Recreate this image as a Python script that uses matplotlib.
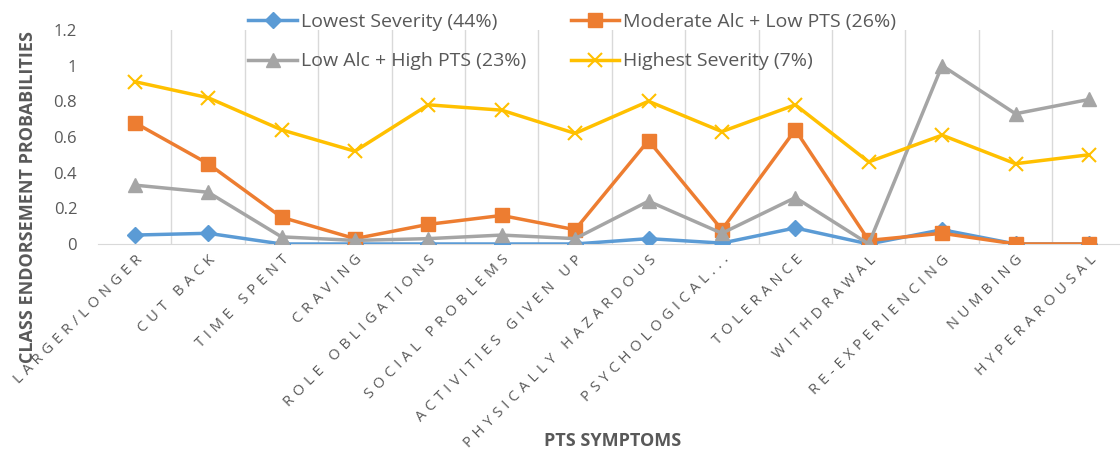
import numpy as np
import matplotlib.pyplot as plt

# symptom categories (x axis)
symptoms = ['LARGER/LONGER', 'CUT BACK', 'TIME SPENT', 'CRAVING', 'ROLE OBLIGATIONS',
            'SOCIAL PROBLEMS', 'ACTIVITIES GIVEN UP', 'PHYSICALLY HAZARDOUS',
            'PSYCHOLOGICAL...', 'TOLERANCE', 'WITHDRAWAL', 'RE-EXPERIENCING',
            'NUMBING', 'HYPERAROUSAL']

# class endorsement probabilities
lowest = [0.05, 0.06, 0.0, 0.0, 0.0, 0.0, 0.0, 0.03, 0.005, 0.09, 0.0, 0.08, 0.0, 0.0]
moderate = [0.68, 0.45, 0.15, 0.03, 0.11, 0.16, 0.08, 0.58, 0.08, 0.64, 0.02, 0.06, 0.0, 0.0]
low_alc = [0.33, 0.29, 0.04, 0.02, 0.03, 0.05, 0.03, 0.24, 0.06, 0.26, 0.0, 1.0, 0.73, 0.81]
highest = [0.91, 0.82, 0.64, 0.52, 0.78, 0.75, 0.62, 0.80, 0.63, 0.78, 0.46, 0.61, 0.45, 0.50]

series_names = ['Lowest Severity (44%)', 'Moderate Alc + Low PTS (26%)',
                'Low Alc + High PTS (23%)', 'Highest Severity (7%)']

txt = '#595959'
plt.rcParams['font.family'] = ['Open Sans', 'DejaVu Sans']


def spaced(s):
    # letter-spaced look of the category labels
    return '\u2004'.join(s)


fig = plt.figure(figsize=(11.2, 4.53), dpi=100)
ax = fig.add_axes([0.0875, 0.4614, 0.9175, 0.4726])

x = np.arange(len(symptoms))
l1, = ax.plot(x, lowest, color='#5B9BD5', lw=2.5, marker='D', ms=8, zorder=3)
l2, = ax.plot(x, moderate, color='#ED7D31', lw=2.5, marker='s', ms=10, zorder=4)
l3, = ax.plot(x, low_alc, color='#A5A5A5', lw=2.5, marker='^', ms=10, zorder=5)
l4, = ax.plot(x, highest, color='#FFC000', lw=2.5, marker='x', ms=10, mew=1.5, zorder=6)

ax.set_xlim(-0.5, len(symptoms) - 0.5)
ax.set_ylim(0, 1.2)
ax.set_yticks([0, 0.2, 0.4, 0.6, 0.8, 1.0, 1.2])
ax.set_yticklabels(['0', '0.2', '0.4', '0.6', '0.8', '1', '1.2'])
ax.set_xticks(x)
ax.set_xticklabels([spaced(s) for s in symptoms], rotation=45, ha='right', va='top',
                   rotation_mode='anchor')

# vertical gridlines between categories
for b in np.arange(0.5, len(symptoms) - 0.5):
    ax.axvline(b, color='#D9D9D9', lw=1, zorder=1)

for s in ['top', 'right', 'left']:
    ax.spines[s].set_visible(False)
ax.spines['bottom'].set_color('#D9D9D9')
ax.tick_params(axis='both', length=0, colors=txt)
ax.tick_params(axis='y', labelsize=12, pad=15)
ax.tick_params(axis='x', labelsize=10.5, pad=6)

ax.set_ylabel('CLASS ENDORSEMENT PROBABILITIES', fontsize=13, fontweight='bold', color=txt)
ax.yaxis.set_label_coords(-0.068, 0.22)
ax.yaxis.label.set_va('center')
ax.set_xlabel('PTS SYMPTOMS', fontsize=13, fontweight='bold', color=txt)
ax.xaxis.set_label_coords(0.501, -0.92)
ax.xaxis.label.set_va('center')

leg = fig.legend([l1, l3, l2, l4], [series_names[0], series_names[2], series_names[1], series_names[3]],
                 ncol=2, loc='upper center', bbox_to_anchor=(0.511, 1.01), frameon=False,
                 fontsize=14, handlelength=2.5, handletextpad=0.2, columnspacing=2.3,
                 labelspacing=1.1)
for t in leg.get_texts():
    t.set_color(txt)

fig.savefig('out.png', dpi=100)
